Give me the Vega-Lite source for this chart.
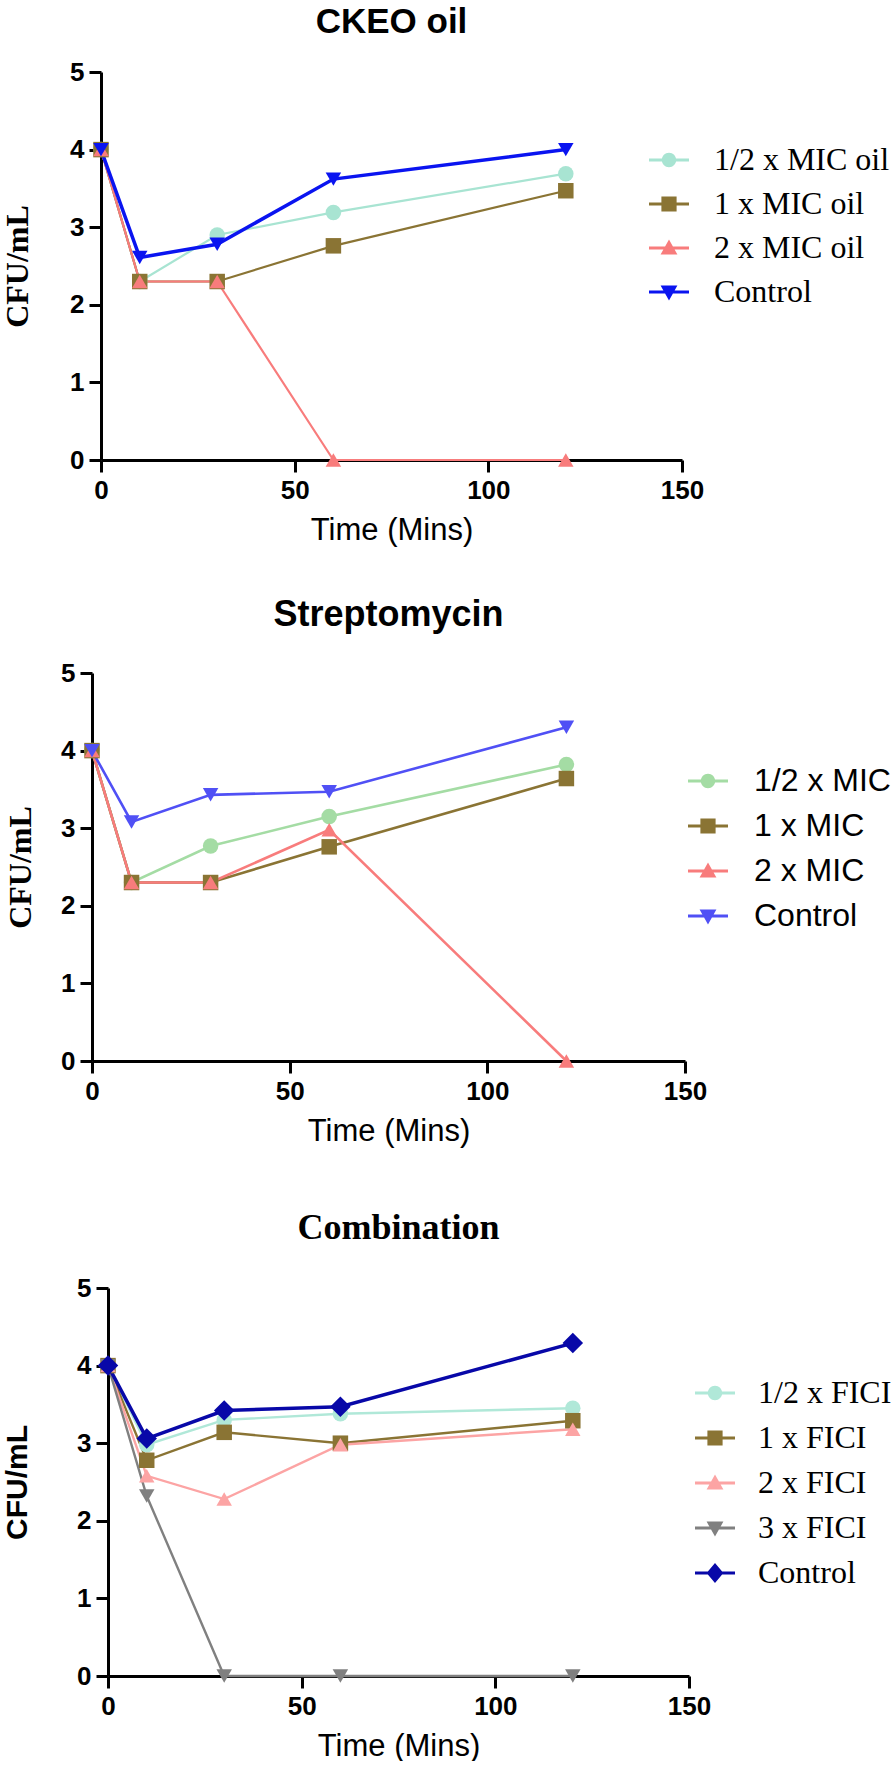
{
  "$schema": "https://vega.github.io/schema/vega-lite/v6.json",
  "padding": {"left": 0, "top": 5, "right": 0, "bottom": 0},
  "background": "white",
  "datasets": {
    "empty": [],
    "ckeo": [
      {"series": "1/2 x MIC oil", "t": 0, "v": 4.0},
      {"series": "1/2 x MIC oil", "t": 10, "v": 2.3},
      {"series": "1/2 x MIC oil", "t": 30, "v": 2.9},
      {"series": "1/2 x MIC oil", "t": 60, "v": 3.19},
      {"series": "1/2 x MIC oil", "t": 120, "v": 3.69},
      {"series": "1 x MIC oil", "t": 0, "v": 4.0},
      {"series": "1 x MIC oil", "t": 10, "v": 2.3},
      {"series": "1 x MIC oil", "t": 30, "v": 2.3},
      {"series": "1 x MIC oil", "t": 60, "v": 2.76},
      {"series": "1 x MIC oil", "t": 120, "v": 3.47},
      {"series": "2 x MIC oil", "t": 0, "v": 4.0},
      {"series": "2 x MIC oil", "t": 10, "v": 2.3},
      {"series": "2 x MIC oil", "t": 30, "v": 2.3},
      {"series": "2 x MIC oil", "t": 60, "v": 0},
      {"series": "2 x MIC oil", "t": 120, "v": 0},
      {"series": "Control", "t": 0, "v": 4.0},
      {"series": "Control", "t": 10, "v": 2.61},
      {"series": "Control", "t": 30, "v": 2.78},
      {"series": "Control", "t": 60, "v": 3.62},
      {"series": "Control", "t": 120, "v": 4.0}
    ],
    "strep": [
      {"series": "1/2 x MIC", "t": 0, "v": 4.0},
      {"series": "1/2 x MIC", "t": 10, "v": 2.3},
      {"series": "1/2 x MIC", "t": 30, "v": 2.77},
      {"series": "1/2 x MIC", "t": 60, "v": 3.15},
      {"series": "1/2 x MIC", "t": 120, "v": 3.82},
      {"series": "1 x MIC", "t": 0, "v": 4.0},
      {"series": "1 x MIC", "t": 10, "v": 2.3},
      {"series": "1 x MIC", "t": 30, "v": 2.3},
      {"series": "1 x MIC", "t": 60, "v": 2.76},
      {"series": "1 x MIC", "t": 120, "v": 3.64},
      {"series": "2 x MIC", "t": 0, "v": 4.0},
      {"series": "2 x MIC", "t": 10, "v": 2.3},
      {"series": "2 x MIC", "t": 30, "v": 2.3},
      {"series": "2 x MIC", "t": 60, "v": 2.98},
      {"series": "2 x MIC", "t": 120, "v": 0},
      {"series": "Control", "t": 0, "v": 4.0},
      {"series": "Control", "t": 10, "v": 3.08},
      {"series": "Control", "t": 30, "v": 3.43},
      {"series": "Control", "t": 60, "v": 3.47},
      {"series": "Control", "t": 120, "v": 4.3}
    ],
    "combo": [
      {"series": "1/2 x FICI", "t": 0, "v": 4.0},
      {"series": "1/2 x FICI", "t": 10, "v": 2.98},
      {"series": "1/2 x FICI", "t": 30, "v": 3.3},
      {"series": "1/2 x FICI", "t": 60, "v": 3.38},
      {"series": "1/2 x FICI", "t": 120, "v": 3.45},
      {"series": "1 x FICI", "t": 0, "v": 4.0},
      {"series": "1 x FICI", "t": 10, "v": 2.78},
      {"series": "1 x FICI", "t": 30, "v": 3.14},
      {"series": "1 x FICI", "t": 60, "v": 3.0},
      {"series": "1 x FICI", "t": 120, "v": 3.29},
      {"series": "2 x FICI", "t": 0, "v": 4.0},
      {"series": "2 x FICI", "t": 10, "v": 2.58},
      {"series": "2 x FICI", "t": 30, "v": 2.28},
      {"series": "2 x FICI", "t": 60, "v": 2.98},
      {"series": "2 x FICI", "t": 120, "v": 3.18},
      {"series": "3 x FICI", "t": 0, "v": 4.0},
      {"series": "3 x FICI", "t": 10, "v": 2.32},
      {"series": "3 x FICI", "t": 30, "v": 0},
      {"series": "3 x FICI", "t": 60, "v": 0},
      {"series": "3 x FICI", "t": 120, "v": 0},
      {"series": "Control", "t": 0, "v": 4.0},
      {"series": "Control", "t": 10, "v": 3.06},
      {"series": "Control", "t": 30, "v": 3.42},
      {"series": "Control", "t": 60, "v": 3.47},
      {"series": "Control", "t": 120, "v": 4.29}
    ]
  },
  "config": {
    "view": {"stroke": null},
    "axis": {
      "grid": false,
      "domainColor": "black",
      "domainWidth": 3,
      "tickColor": "black",
      "tickWidth": 3,
      "tickSize": 12,
      "labelFont": "Liberation Sans",
      "labelFontWeight": "bold",
      "labelFontSize": 26,
      "labelColor": "black",
      "titleColor": "black",
      "labelOverlap": false,
      "labelFlush": false
    },
    "axisX": {"titleFont": "Liberation Sans", "titleFontWeight": "normal", "titleFontSize": 31, "labelPadding": 5, "titlePadding": 12},
    "axisY": {"titleFontWeight": "bold", "titleFontSize": 32, "labelPadding": 5},
    "legend": {"labelColor": "black", "labelLimit": 400, "padding": 0, "symbolStrokeWidth": 0}
  },
  "columns": 1,
  "spacing": 64,
  "resolve": {
    "scale": {"x": "independent", "y": "independent", "color": "independent"},
    "legend": {"color": "independent"}
  },
  "concat": [
    {
      "columns": 1,
      "spacing": 52,
      "resolve": {
        "scale": {"x": "independent", "y": "independent", "color": "independent"},
        "legend": {"color": "independent"}
      },
      "concat": [
        {
          "spacing": 0,
          "resolve": {"scale": {"x": "independent", "y": "independent", "color": "independent"}, "legend": {"color": "independent"}},
          "hconcat": [
            {"width": 1, "height": 1, "data": {"name": "empty"}, "mark": {"type": "point"}},
            {
              "width": 581,
              "height": 388,
              "title": {"text": "CKEO oil", "font": "Liberation Sans", "fontSize": 35, "fontWeight": "bold", "color": "black", "anchor": "middle", "offset": 19},
              "data": {"name": "ckeo"},
              "encoding": {
                "x": {"field": "t", "type": "quantitative", "scale": {"domain": [0, 150], "nice": false},
                  "axis": {"values": [0, 50, 100, 150], "title": "Time (Mins)"}},
                "y": {"field": "v", "type": "quantitative", "scale": {"domain": [0, 5], "nice": false, "zero": true},
                  "axis": {"values": [0, 1, 2, 3, 4, 5], "title": "CFU/mL", "titleFont": "Liberation Serif", "titlePadding": 35.5}},
                "color": {"field": "series", "type": "nominal",
                  "scale": {"domain": ["1/2 x MIC oil", "1 x MIC oil", "2 x MIC oil", "Control"], "range": ["#A8E4D2", "#8A7434", "#F87C7C", "#0A14F0"]},
                  "legend": {"orient": "none", "legendX": 548, "legendY": 68, "title": null, "symbolSize": 1600, "labelOffset": 25, "rowPadding": 8,
                    "labelFont": "Liberation Serif", "labelFontSize": 32,
                    "encoding": {"symbols": {
                      "shape": {"value": {"expr": "datum.value === '1/2 x MIC oil' ? 'M-1,-0.08H1V0.08H-1Z M0.36,0A0.36,0.36 0 1,1 -0.36,0A0.36,0.36 0 1,1 0.36,0Z' : datum.value === '1 x MIC oil' ? 'M-1,-0.08H1V0.08H-1Z M-0.38,-0.38H0.38V0.38H-0.38Z' : datum.value === '2 x MIC oil' ? 'M-1,-0.08H1V0.08H-1Z M0,-0.42L0.42,0.32H-0.42Z' : 'M-1,-0.08H1V0.08H-1Z M0,0.42L-0.42,-0.32H0.42Z'"}}
                    }}}
                }
              },
              "layer": [
                {"mark": {"type": "line", "clip": false},
                  "encoding": {"strokeWidth": {"condition": {"test": "datum.series === 'Control'", "value": 3.5}, "value": 2.2}}},
                {"mark": {"type": "point", "filled": true, "opacity": 1, "size": 240, "clip": false},
                  "encoding": {"shape": {"condition": [
                    {"test": "datum.series === '1 x MIC oil'", "value": "square"},
                    {"test": "datum.series === '2 x MIC oil'", "value": "triangle-up"},
                    {"test": "datum.series === 'Control'", "value": "triangle-down"}], "value": "circle"}}}
              ]
            }
          ]
        },
        {
          "spacing": 0,
          "resolve": {"scale": {"x": "independent", "y": "independent", "color": "independent"}, "legend": {"color": "independent"}},
          "hconcat": [
            {"width": 4, "height": 1, "data": {"name": "empty"}, "mark": {"type": "point"}},
            {
              "width": 593,
              "height": 388,
              "title": {"text": "Streptomycin", "font": "Liberation Sans", "fontSize": 36, "fontWeight": "bold", "color": "black", "anchor": "middle", "offset": 26},
              "data": {"name": "strep"},
              "encoding": {
                "x": {"field": "t", "type": "quantitative", "scale": {"domain": [0, 150], "nice": false},
                  "axis": {"values": [0, 50, 100, 150], "title": "Time (Mins)"}},
                "y": {"field": "v", "type": "quantitative", "scale": {"domain": [0, 5], "nice": false, "zero": true},
                  "axis": {"values": [0, 1, 2, 3, 4, 5], "title": "CFU/mL", "titleFont": "Liberation Serif", "titlePadding": 23.5}},
                "color": {"field": "series", "type": "nominal",
                  "scale": {"domain": ["1/2 x MIC", "1 x MIC", "2 x MIC", "Control"], "range": ["#A4DCA4", "#8A7434", "#F87C7C", "#5050F5"]},
                  "legend": {"orient": "none", "legendX": 596, "legendY": 88, "title": null, "symbolSize": 1600, "labelOffset": 26, "rowPadding": 9,
                    "labelFont": "Liberation Sans", "labelFontSize": 32,
                    "encoding": {"symbols": {
                      "shape": {"value": {"expr": "datum.value === '1/2 x MIC' ? 'M-1,-0.08H1V0.08H-1Z M0.36,0A0.36,0.36 0 1,1 -0.36,0A0.36,0.36 0 1,1 0.36,0Z' : datum.value === '1 x MIC' ? 'M-1,-0.08H1V0.08H-1Z M-0.38,-0.38H0.38V0.38H-0.38Z' : datum.value === '2 x MIC' ? 'M-1,-0.08H1V0.08H-1Z M0,-0.42L0.42,0.32H-0.42Z' : 'M-1,-0.08H1V0.08H-1Z M0,0.42L-0.42,-0.32H0.42Z'"}}
                    }}}
                }
              },
              "layer": [
                {"mark": {"type": "line", "clip": false, "strokeWidth": 2.6}},
                {"mark": {"type": "point", "filled": true, "opacity": 1, "size": 240, "clip": false},
                  "encoding": {"shape": {"condition": [
                    {"test": "datum.series === '1 x MIC'", "value": "square"},
                    {"test": "datum.series === '2 x MIC'", "value": "triangle-up"},
                    {"test": "datum.series === 'Control'", "value": "triangle-down"}], "value": "circle"}}}
              ]
            }
          ]
        }
      ]
    },
    {
      "spacing": 0,
      "resolve": {"scale": {"x": "independent", "y": "independent", "color": "independent"}, "legend": {"color": "independent"}},
      "hconcat": [
        {"width": 2, "height": 1, "data": {"name": "empty"}, "mark": {"type": "point"}},
        {
          "width": 581,
          "height": 388,
          "title": {"text": "Combination", "font": "Liberation Serif", "fontSize": 36, "fontWeight": "bold", "color": "black", "anchor": "middle", "offset": 28},
          "data": {"name": "combo"},
          "encoding": {
            "x": {"field": "t", "type": "quantitative", "scale": {"domain": [0, 150], "nice": false},
              "axis": {"values": [0, 50, 100, 150], "title": "Time (Mins)"}},
            "y": {"field": "v", "type": "quantitative", "scale": {"domain": [0, 5], "nice": false, "zero": true},
              "axis": {"values": [0, 1, 2, 3, 4, 5], "title": "CFU/mL", "titleFont": "Liberation Sans", "titleFontSize": 30, "titlePadding": 44.5}},
            "color": {"field": "series", "type": "nominal",
              "scale": {"domain": ["1/2 x FICI", "1 x FICI", "2 x FICI", "3 x FICI", "Control"], "range": ["#B0E8D8", "#8A7434", "#FCA4A4", "#808080", "#0808A8"]},
              "legend": {"orient": "none", "legendX": 587, "legendY": 85, "title": null, "symbolSize": 1600, "labelOffset": 23, "rowPadding": 9,
                "labelFont": "Liberation Serif", "labelFontSize": 32,
                "encoding": {"symbols": {
                  "shape": {"value": {"expr": "datum.value === '1/2 x FICI' ? 'M-1,-0.08H1V0.08H-1Z M0.36,0A0.36,0.36 0 1,1 -0.36,0A0.36,0.36 0 1,1 0.36,0Z' : datum.value === '1 x FICI' ? 'M-1,-0.08H1V0.08H-1Z M-0.38,-0.38H0.38V0.38H-0.38Z' : datum.value === '2 x FICI' ? 'M-1,-0.08H1V0.08H-1Z M0,-0.42L0.42,0.32H-0.42Z' : datum.value === '3 x FICI' ? 'M-1,-0.08H1V0.08H-1Z M0,0.42L-0.42,-0.32H0.42Z' : 'M-1,-0.08H1V0.08H-1Z M0,-0.5L0.42,0L0,0.5L-0.42,0Z'"}}
                }}}
            }
          },
          "layer": [
            {"mark": {"type": "line", "clip": false},
              "encoding": {"strokeWidth": {"condition": {"test": "datum.series === 'Control'", "value": 3.5}, "value": 2.4}}},
            {"mark": {"type": "point", "filled": true, "opacity": 1, "clip": false},
              "encoding": {
                "shape": {"condition": [
                  {"test": "datum.series === '1 x FICI'", "value": "square"},
                  {"test": "datum.series === '2 x FICI'", "value": "triangle-up"},
                  {"test": "datum.series === '3 x FICI'", "value": "triangle-down"},
                  {"test": "datum.series === 'Control'", "value": "diamond"}], "value": "circle"},
                "size": {"condition": {"test": "datum.series === 'Control'", "value": 420}, "value": 240}}}
          ]
        }
      ]
    }
  ]
}
